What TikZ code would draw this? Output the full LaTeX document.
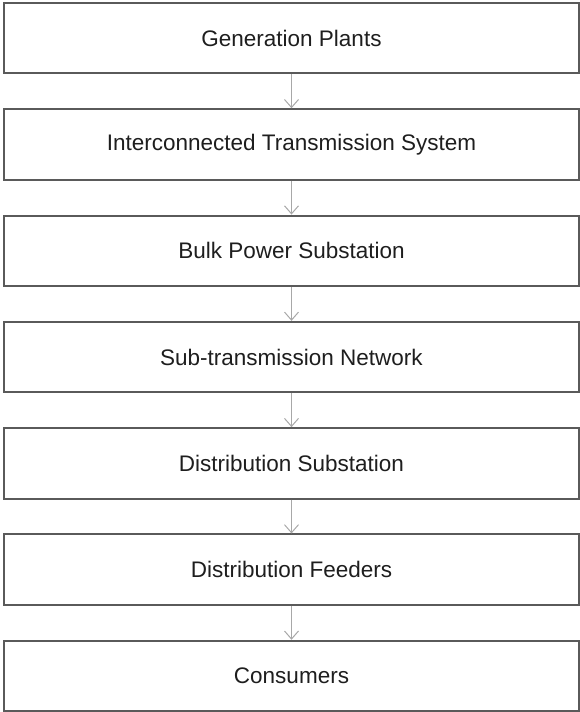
\documentclass[tikz,border=0pt]{standalone}
\usepackage{fontspec}
\setmainfont{Liberation Sans}
\usetikzlibrary{arrows.meta}
\definecolor{boxline}{HTML}{5A5A5A}
\definecolor{arrowline}{HTML}{A8A8A8}
\definecolor{labeltext}{HTML}{1E1E1E}
\begin{document}
\begin{tikzpicture}[x=1pt,y=-1pt,
  stagebox/.style={draw=boxline, line width=2pt, fill=white,
    minimum width=575pt, minimum height=70.5pt, inner sep=0pt,
    text=labeltext, font=\fontsize{22.5}{27}\selectfont},
  flow/.style={draw=arrowline, line width=1pt,
    -{Straight Barb[length=8pt,width=14pt,line width=1pt]}}]
  \useasboundingbox (0,0) rectangle (580,712);
  % stages of the supply chain, top to bottom
  \node[stagebox] (gen)  at (291.5,38.2)  {Generation Plants};
  \node[stagebox] (its)  at (291.5,144.5) {Interconnected Transmission System};
  \node[stagebox] (bulk) at (291.5,250.8) {Bulk Power Substation};
  \node[stagebox] (sub)  at (291.5,357.1) {Sub-transmission Network};
  \node[stagebox] (dsub) at (291.5,463.4) {Distribution Substation};
  \node[stagebox] (feed) at (291.5,569.7) {Distribution Feeders};
  \node[stagebox] (cons) at (291.5,676.0) {Consumers};
  % connectors between consecutive stages
  \draw[flow] (gen.south)  -- (its.north);
  \draw[flow] (its.south)  -- (bulk.north);
  \draw[flow] (bulk.south) -- (sub.north);
  \draw[flow] (sub.south)  -- (dsub.north);
  \draw[flow] (dsub.south) -- (feed.north);
  \draw[flow] (feed.south) -- (cons.north);
\end{tikzpicture}
\end{document}
